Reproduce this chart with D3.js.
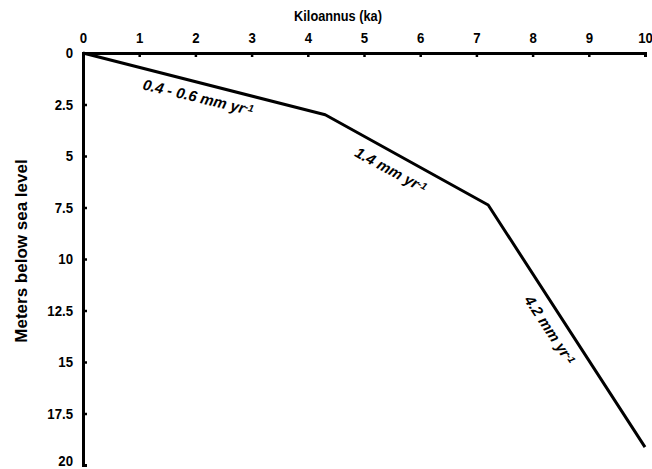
<!DOCTYPE html>
<html><head><meta charset="utf-8">
<script src="https://cdn.jsdelivr.net/npm/d3@7"></script>
<style>body{margin:0;background:#fff}svg{display:block}text{font-family:"Liberation Sans",Arial,sans-serif;font-weight:bold;fill:#000}</style>
</head><body>
<script>
const ageKa = [0, 4.31, 7.21, 10];
const depthM = [0, 3.0, 7.38, 19.13];
const xTicks = [0,1,2,3,4,5,6,7,8,9,10];
const yTicks = [0,2.5,5,7.5,10,12.5,15,17.5,20];
const rateLabels = ["0.4 - 0.6 mm yr", "1.4 mm yr", "4.2 mm yr"];
const rateAt = [[2.05, 2.15], [5.48, 5.68], [8.31, 13.45]];

const W=652,H=469, m={l:83,t:53,r:7,b:4};
const sx=0.88;
const svg=d3.select("body").append("svg").attr("width",W).attr("height",H);
const x=d3.scaleLinear().domain([0,10]).range([m.l,W-m.r]);
const y=d3.scaleLinear().domain([0,20]).range([m.t,H-m.b]);

const xa=svg.append("g").attr("transform",`translate(0,${m.t})`)
  .call(d3.axisTop(x).tickValues(xTicks).tickSize(-4).tickPadding(10).tickFormat(d3.format("")));
const ya=svg.append("g").attr("transform",`translate(${m.l},0)`)
  .call(d3.axisLeft(y).tickValues(yTicks).tickSize(-4).tickPadding(10).tickFormat(d=>d));
[xa,ya].forEach(g=>{
  g.select(".domain").attr("stroke","#000").attr("stroke-width",3);
  g.selectAll(".tick line").attr("stroke","#000").attr("stroke-width",2.5);
});
xa.selectAll(".tick text").style("font-size","15px").style("font-weight","bold").attr("fill","#000")
  .attr("transform",function(){const yy=+d3.select(this).attr("y");return `translate(0,${yy}) scale(${sx},1) translate(0,${-yy})`;});
ya.selectAll(".tick text").style("font-size","15px").style("font-weight","bold").attr("fill","#000")
  .attr("transform",function(){const xx=+d3.select(this).attr("x");return `translate(${xx},0) scale(${sx},1) translate(${-xx},0)`;});
ya.selectAll(".tick").filter(d=>d===20).select("text").attr("dy","0em");

svg.append("path").datum(ageKa.map((a,i)=>[a,depthM[i]]))
  .attr("d",d3.line().x(d=>x(d[0])).y(d=>y(d[1])))
  .attr("fill","none").attr("stroke","#000").attr("stroke-width",3).attr("stroke-linejoin","round");

svg.append("text").attr("transform",`translate(338,21) scale(${sx},1)`).attr("text-anchor","middle").style("font-size","14.5px").text("Kiloannus (ka)");
svg.append("text").attr("transform",`translate(27,251) rotate(-90)`).attr("text-anchor","middle").style("font-size","17px").text("Meters below sea level");

const angles=[13.5,28.5,56.5];
rateLabels.forEach((t,i)=>{
  const tx=svg.append("text").attr("transform",`translate(${x(rateAt[i][0])},${y(rateAt[i][1])}) rotate(${angles[i]})`)
    .attr("text-anchor","middle").attr("dy","0.35em").style("font-size","15px").style("font-style","italic");
  tx.append("tspan").text(t);
  tx.append("tspan").attr("dy","-0.35em").style("font-size","10px").text("-1");
});
</script>
</body></html>
